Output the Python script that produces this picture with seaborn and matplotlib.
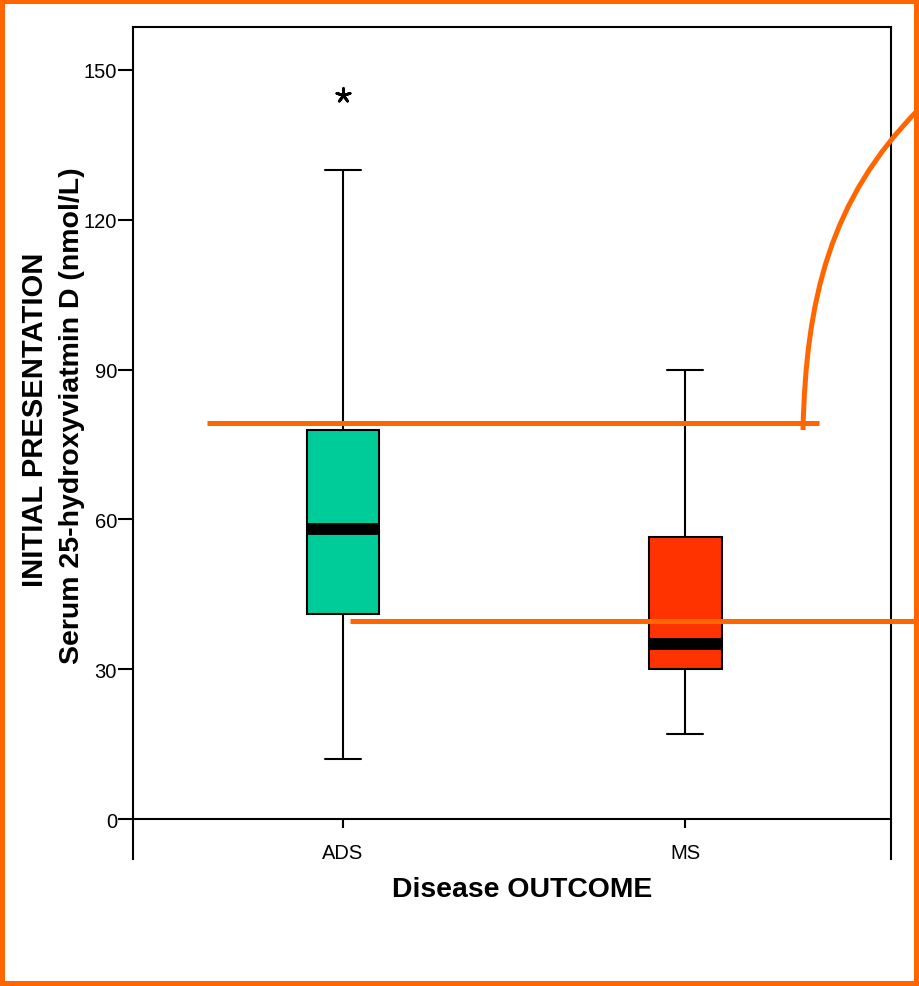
import numpy as np
import pandas as pd
import matplotlib
matplotlib.use("Agg")
import matplotlib.pyplot as plt
from matplotlib.lines import Line2D
from matplotlib.patches import Rectangle, PathPatch
from matplotlib.path import Path
import seaborn as sns

# ---- data ----
groups = ["ADS", "MS"]
# five-number summaries: lower whisker, Q1, median, Q3, upper whisker
ads_summary = [12, 41, 58, 78, 130]
ms_summary = [17, 30, 35, 56.5, 90]
outlier_groups = ["ADS"]
outlier_values = [145]
box_colors = ["#00CC99", "#FF3300"]
y_ticks = [0, 30, 60, 90, 120, 150]

df = pd.DataFrame({
    "group": [groups[0]] * len(ads_summary) + [groups[1]] * len(ms_summary),
    "value": ads_summary + ms_summary,
})
out_df = pd.DataFrame({"group": outlier_groups, "value": outlier_values})

sns.set_theme(style="white")
plt.rcParams["font.family"] = ["Liberation Sans", "DejaVu Sans"]
plt.rcParams["text.color"] = "black"

W, H = 919, 987
fig = plt.figure(figsize=(W / 100, H / 100), dpi=100)
ax = fig.add_axes([133 / W, 1 - 860 / H, 758 / W, 832 / H])

sns.boxplot(
    data=df, x="group", y="value", hue="group", order=groups, hue_order=groups,
    palette=dict(zip(groups, box_colors)), saturation=1, width=0.213,
    whis=(0, 100), linewidth=1.5, linecolor="black", legend=False,
    medianprops=dict(linewidth=8.5, color="black", solid_capstyle="butt"),
    ax=ax,
)
sns.stripplot(
    data=out_df, x="group", y="value", order=groups, jitter=False,
    marker=(5, 2, 0), size=10, color="black", edgecolor="black",
    linewidth=2, ax=ax,
)

ax.set_xlim(-0.614, 1.602)
ax.set_ylim(-8.0, 158.6)
ax.set_yticks(y_ticks)
ax.set_yticklabels([str(t) for t in y_ticks])
ax.set_xlabel("")
ax.set_ylabel("")

for s in ax.spines.values():
    s.set_color("black")
    s.set_linewidth(1.5)
ax.spines["bottom"].set_position(("data", 0))

ax.tick_params(axis="y", left=True, length=11, width=1.5, pad=0.5,
               labelsize=14.5, colors="black", direction="out")
ax.tick_params(axis="x", bottom=True, length=6.5, width=1.5, pad=11,
               labelsize=14.5, colors="black", direction="out")

# axis titles
fig.text(35 / W, 1 - 420 / H, "INITIAL PRESENTATION", rotation=90,
         ha="center", va="center", fontsize=21, fontweight="bold", color="black")
fig.text(72 / W, 1 - 416 / H, "Serum 25-hydroxyviatmin D (nmol/L)", rotation=90,
         ha="center", va="center", fontsize=20.5, fontweight="bold", color="black")
fig.text(522 / W, 1 - 890 / H, "Disease OUTCOME",
         ha="center", va="center", fontsize=20.4, fontweight="bold", color="black")

# orange annotation overlays (figure pixel coordinates)
orange = "#FF6600"
fig.add_artist(Line2D([207 / W, 819 / W], [1 - 424 / H] * 2, color=orange,
                      lw=3.6, transform=fig.transFigure, solid_capstyle="butt"))
fig.add_artist(Line2D([350 / W, 919 / W], [1 - 622 / H] * 2, color=orange,
                      lw=3.6, transform=fig.transFigure, solid_capstyle="butt"))
pts = [(803, 431), (806, 300), (830, 200), (919, 110)]
verts = [(x / W, 1 - y / H) for x, y in pts]
curve = Path(verts, [Path.MOVETO, Path.CURVE4, Path.CURVE4, Path.CURVE4])
fig.add_artist(PathPatch(curve, facecolor="none", edgecolor=orange, lw=3.6,
                         transform=fig.transFigure))

# slide border
fig.add_artist(Rectangle((0, 0), 1, 1, transform=fig.transFigure, fill=False,
                         edgecolor=orange, lw=7.2, zorder=10))

fig.savefig("out.png", dpi=100)
